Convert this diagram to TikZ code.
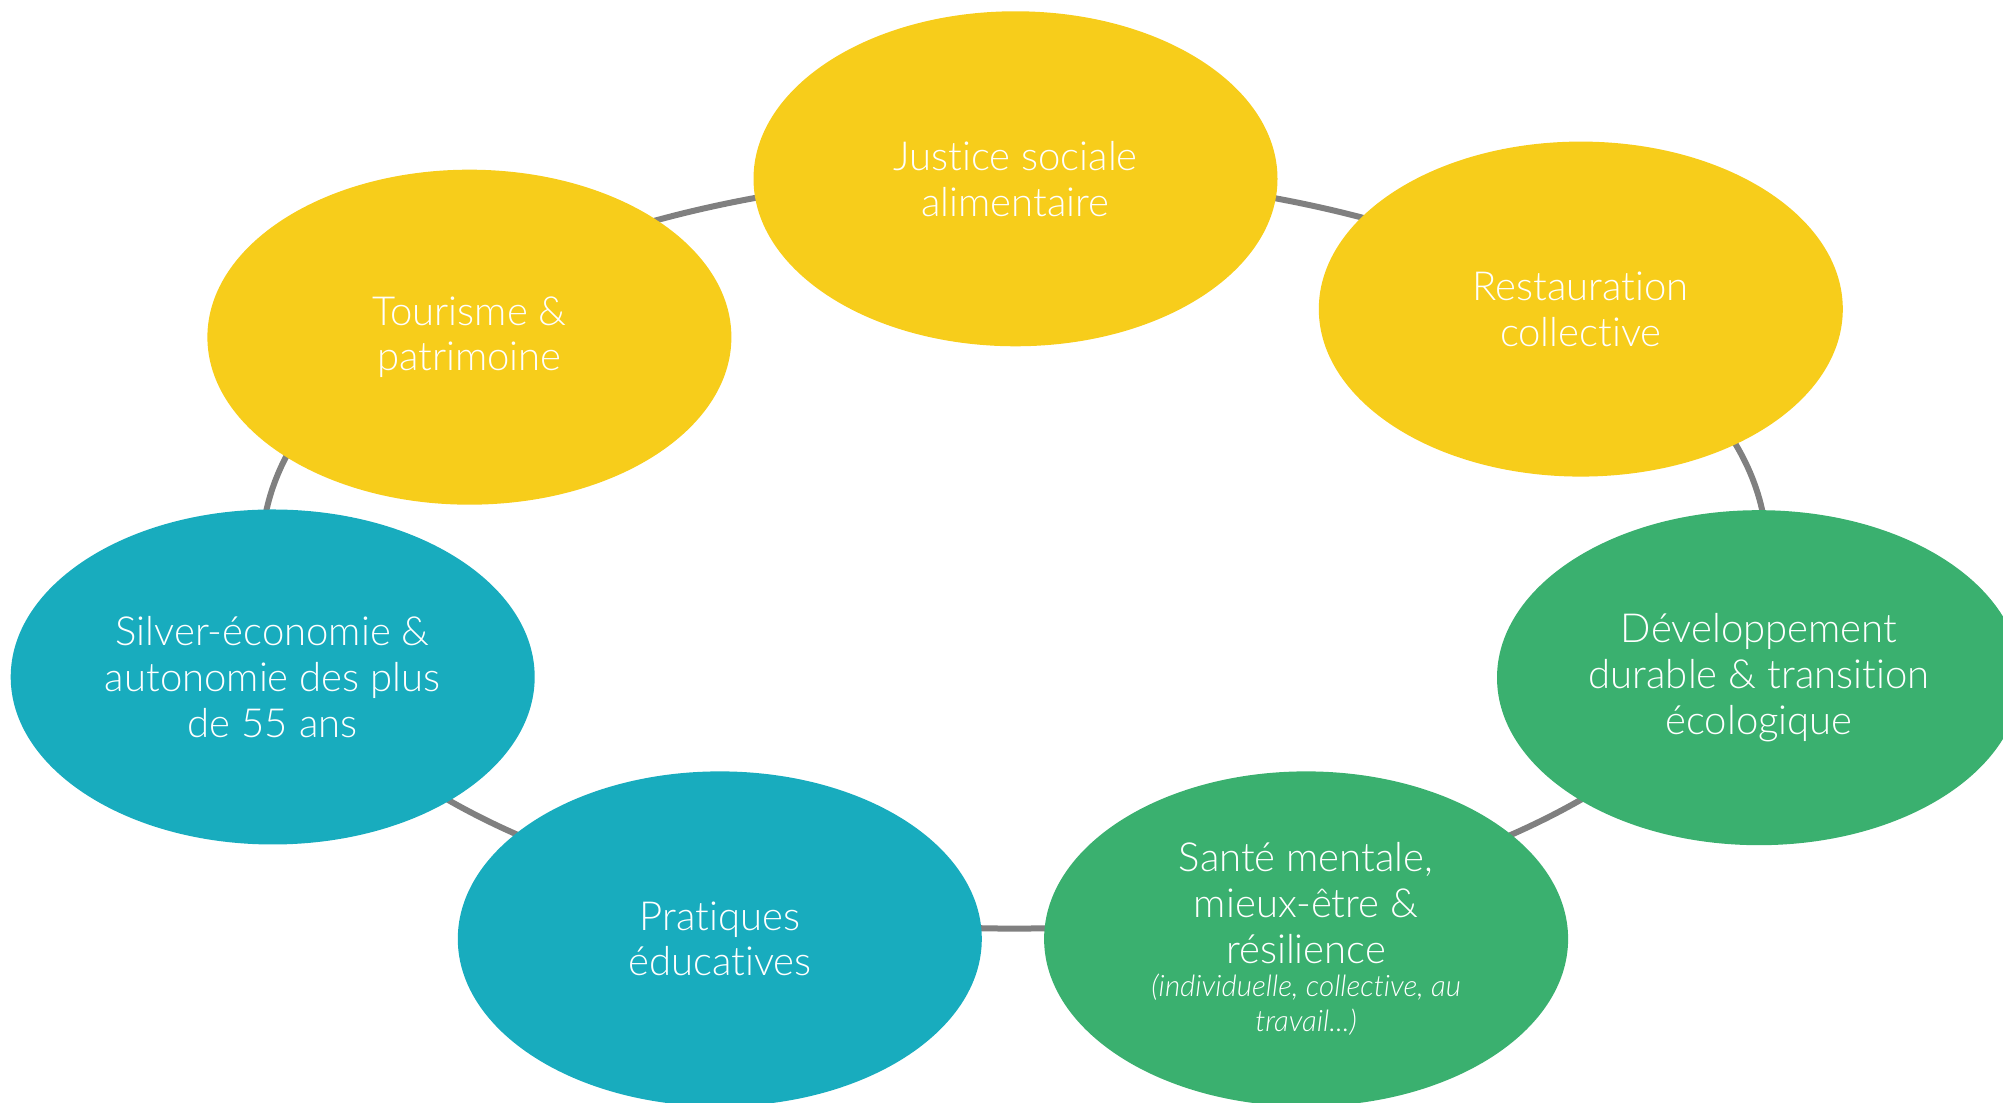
\documentclass[tikz,border=0pt]{standalone}
\usepackage{fontspec}
\setmainfont{Lato Light}[ItalicFont={Lato Light Italic}, Ligatures=NoCommon]
\usetikzlibrary{shapes.geometric}
\usepackage{xcolor}

\definecolor{jaune}{HTML}{F7CD1B}
\definecolor{turquoise}{HTML}{18ACBE}
\definecolor{vert}{HTML}{3AB06F}
\definecolor{anneau}{HTML}{808080}

\tikzset{
    bulle/.style={ellipse, inner sep=0pt, minimum width=5.24cm, minimum height=3.35cm,
        text=white, align=center, font=\fontsize{11.4}{13}\selectfont}
}
\newcommand{\precision}{\fontsize{8.4}{9.5}\selectfont\itshape}

\begin{document}
\begin{tikzpicture}
            \useasboundingbox (0,0) rectangle (20.03,11.03);

            \def\cercle{(10.143,5.512) ellipse (7.524 and 3.768)}

            % the ring behind the bubbles
            \draw[anneau, line width=0.6mm] \cercle;

            \node[bulle, fill=jaune] (justice) at (10.155, 9.242) {Justice sociale\\alimentaire};
            \node[bulle, fill=jaune] (restauration) at (15.808, 7.939) {Restauration\\collective};
            \node[bulle, fill=jaune] (tourisme) at (4.694, 7.658) {Tourisme \&\\patrimoine};
            \node[bulle, fill=turquoise] (silver) at (2.727, 4.26) {Silver-économie \&\\autonomie des plus\\de 55 ans};
            \node[bulle, fill=vert] (developpement) at (17.59, 4.253) {Développement\\durable \& transition\\écologique};
            \node[bulle, fill=turquoise] (pratiques) at (7.198, 1.641) {Pratiques\\éducatives};
            \node[bulle, fill=vert] (sante) at (13.061, 1.641) {Santé mentale,\\mieux-être \&\\résilience\\[-3.5pt]
                {\precision (individuelle, collective, au}\\[-3.2pt]
                {\precision travail...)}};
        \end{tikzpicture}
\end{document}
